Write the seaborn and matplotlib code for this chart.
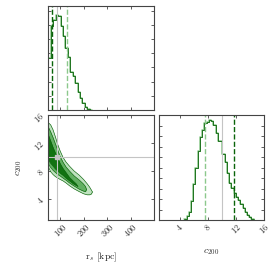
import numpy as np
import pandas as pd
import matplotlib
matplotlib.use("Agg")
import matplotlib.pyplot as plt
import seaborn as sns

# --- values ------------------------------------------------------------
# r_s marginal (kpc): bin edges and relative heights
rs_edges = [50 + 10.4 * k for k in range(19)]
rs_heights = [0.55, 0.89, 0.95, 1.0, 0.99, 0.89, 0.78, 0.66, 0.56, 0.40,
              0.36, 0.29, 0.19, 0.13, 0.07, 0.03, 0.01, 0.005]

# c200 marginal: bin edges and heights
c_edges = [4.61 + 0.32 * k for k in range(32)]
c_heights = [0.014, 0.04, 0.08, 0.18, 0.34, 0.50, 0.66, 0.79, 0.86, 0.92,
             0.93, 0.95, 0.94, 0.90, 0.83, 0.75, 0.75, 0.63, 0.55, 0.45,
             0.35, 0.30, 0.26, 0.22, 0.19, 0.15, 0.11, 0.08, 0.05, 0.03, 0.01]

# 2d credible regions (outer, middle, inner): r_s samples with c200 bounds
r_out = [50, 60, 70, 80, 90, 100, 112, 125, 140, 160, 182, 200, 215, 226, 233, 238]
out_hi = [14.9, 14.6, 13.9, 12.9, 11.8, 10.9, 10.0, 9.3, 8.7, 8.0, 7.4, 6.8, 6.2, 5.7, 5.3, 5.0]
out_lo = [8.6, 7.9, 7.5, 7.2, 7.0, 6.8, 6.6, 6.3, 5.9, 5.45, 5.05, 4.75, 4.6, 4.6, 4.7, 5.0]

r_mid = [50, 60, 70, 80, 90, 100, 112, 125, 140, 160, 182, 198, 208, 213]
mid_hi = [14.3, 13.6, 12.8, 11.9, 11.0, 10.1, 9.3, 8.6, 8.0, 7.3, 6.7, 6.2, 5.8, 5.35]
mid_lo = [9.0, 8.5, 8.1, 7.8, 7.5, 7.3, 7.0, 6.7, 6.3, 5.85, 5.4, 5.15, 5.05, 5.35]

r_in = [50, 60, 70, 80, 90, 100, 112, 125, 140, 155, 168, 176]
in_hi = [13.2, 12.3, 11.4, 10.6, 9.9, 9.1, 8.4, 7.8, 7.1, 6.6, 6.2, 5.8]
in_lo = [9.6, 9.1, 8.7, 8.3, 8.0, 7.7, 7.4, 7.0, 6.6, 6.2, 5.95, 5.8]

truth_rs = 86
truth_c = 10.0
q_rs = [65, 128]
q_c = [7.5, 11.75]

rs_ticks = [100, 200, 300, 400]
c_ticks = [4, 8, 12, 16]

dark = "#0a640a"
light = "#8cc88c"
fills = ["#bfe2bf", "#62b062", "#117211"]
grey = "#c4c4c4"

sns.set_style("ticks")
plt.rcParams["font.family"] = "serif"
plt.rcParams["font.serif"] = ["cmr10", "DejaVu Serif"]
plt.rcParams["mathtext.fontset"] = "cm"
plt.rcParams["axes.formatter.use_mathtext"] = True
plt.rcParams["axes.edgecolor"] = "#444444"
plt.rcParams["axes.linewidth"] = 0.8

fig = plt.figure(figsize=(2.75, 2.66), dpi=100)
W, H = 275.0, 266.0
ax_rs = fig.add_axes([48.3 / W, (H - 110) / H, 105.7 / W, 104 / H])
ax_2d = fig.add_axes([48.3 / W, (H - 220) / H, 105.7 / W, 105 / H])
ax_c = fig.add_axes([159 / W, (H - 220) / H, 105 / W, 105 / H])


def style(ax):
    ax.tick_params(direction="in", top=True, right=True, length=2.5,
                   width=0.6, color="#444444", labelsize=6, pad=1.5)


def step_hist(ax, edges, heights, color, lw):
    edges = np.asarray(edges)
    df = pd.DataFrame({"x": 0.5 * (edges[1:] + edges[:-1]), "w": heights})
    sns.histplot(data=df, x="x", weights="w", bins=list(edges), element="step",
                 fill=False, color=color, lw=lw, ax=ax)


# r_s marginal
step_hist(ax_rs, rs_edges, rs_heights, light, 1.1)
step_hist(ax_rs, rs_edges, rs_heights, dark, 0.6)
ax_rs.axvline(truth_rs, color=grey, lw=0.8)
ax_rs.axvline(q_rs[0], color=dark, lw=1.0, ls="--")
ax_rs.axvline(q_rs[1], color=light, lw=1.0, ls="--")
ax_rs.set_xlim(50, 500)
ax_rs.set_ylim(0, 1.1)
ax_rs.set_xticks(rs_ticks)
ax_rs.set_yticks(np.arange(0.15, 1.1, 0.15))
ax_rs.set_xticklabels([])
ax_rs.set_yticklabels([])
ax_rs.set_xlabel("")
ax_rs.set_ylabel("")
style(ax_rs)

# 2d panel
ax_2d.fill_between(r_out, out_lo, out_hi, color=fills[0], lw=0)
ax_2d.fill_between(r_mid, mid_lo, mid_hi, color=fills[1], lw=0)
ax_2d.fill_between(r_in, in_lo, in_hi, color=fills[2], lw=0)
for rr, lo, hi in [(r_out, out_lo, out_hi), (r_mid, mid_lo, mid_hi), (r_in, in_lo, in_hi)]:
    ax_2d.plot(rr, hi, color=dark, lw=0.45)
    ax_2d.plot(rr, lo, color=dark, lw=0.45)
ax_2d.axvline(truth_rs, color=grey, lw=0.8)
ax_2d.axhline(truth_c, color=grey, lw=0.8)
ax_2d.plot([truth_rs], [truth_c], "s", color=grey, ms=3)
ax_2d.set_xlim(50, 500)
ax_2d.set_ylim(1, 16)
ax_2d.set_xticks(rs_ticks)
ax_2d.set_yticks(c_ticks)
style(ax_2d)
for lab in ax_2d.get_xticklabels():
    lab.set_rotation(45)
for lab in ax_2d.get_yticklabels():
    lab.set_rotation(45)
ax_2d.set_xlabel(r"r$_s$ [kpc]", fontsize=7, labelpad=8)
ax_2d.set_ylabel(r"$c_{200}$", fontsize=7, labelpad=6)

# c200 marginal
step_hist(ax_c, c_edges, c_heights, light, 1.1)
step_hist(ax_c, c_edges, c_heights, dark, 0.6)
ax_c.axvline(truth_c, color=grey, lw=0.8)
ax_c.axvline(q_c[0], color=light, lw=1.0, ls="--")
ax_c.axvline(q_c[1], color=dark, lw=1.0, ls="--")
ax_c.set_xlim(1, 16)
ax_c.set_ylim(0, 1.0)
ax_c.set_xticks(c_ticks)
ax_c.set_yticks(np.arange(0.1, 1.0, 0.1))
ax_c.set_yticklabels([])
ax_c.set_ylabel("")
style(ax_c)
for lab in ax_c.get_xticklabels():
    lab.set_rotation(45)
ax_c.set_xlabel(r"$c_{200}$", fontsize=7, labelpad=8)

fig.savefig("out.png", dpi=100)
